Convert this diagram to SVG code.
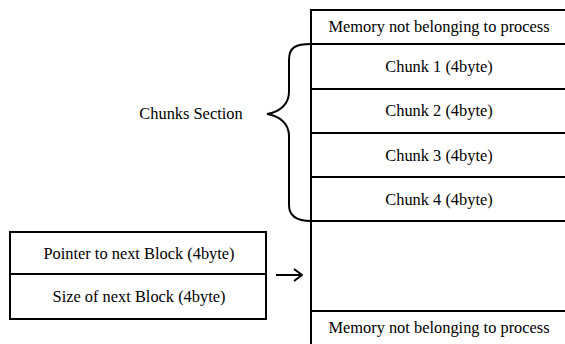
<svg xmlns="http://www.w3.org/2000/svg" width="565" height="344" viewBox="0 0 565 344">
  <style>
    .box { fill: #ffffff; stroke: #000000; stroke-width: 2; }
    .sep { stroke: #000000; stroke-width: 2; fill: none; }
    text { font-family: 'Liberation Serif', 'Times New Roman', serif; font-size: 16.4px; fill: #000000; text-anchor: middle; }
    .conn { stroke: #000000; stroke-width: 2; fill: none; }
  </style>
  <defs>
    <marker id="arrow" viewBox="0 0 10 14" refX="9" refY="7" markerWidth="10" markerHeight="14" orient="auto" markerUnits="userSpaceOnUse">
      <path d="M1,1 L9,7 L1,13" fill="none" stroke="#000000" stroke-width="2"/>
    </marker>
  </defs>
  <rect width="565" height="344" fill="#ffffff"/>

  <!-- memory column -->
  <g id="memory">
    <rect class="box" x="311" y="10" width="260" height="340"/>
    <g id="top-foreign">
      <text x="439" y="32">Memory not belonging to process</text>
    </g>
    <g id="chunk1">
      <line class="sep" x1="311" y1="44" x2="565" y2="44"/>
      <text x="439" y="72">Chunk 1 (4byte)</text>
    </g>
    <g id="chunk2">
      <line class="sep" x1="311" y1="89" x2="565" y2="89"/>
      <text x="439" y="116">Chunk 2 (4byte)</text>
    </g>
    <g id="chunk3">
      <line class="sep" x1="311" y1="133" x2="565" y2="133"/>
      <text x="439" y="161">Chunk 3 (4byte)</text>
    </g>
    <g id="chunk4">
      <line class="sep" x1="311" y1="177" x2="565" y2="177"/>
      <text x="439" y="205">Chunk 4 (4byte)</text>
    </g>
    <g id="free-area">
      <line class="sep" x1="311" y1="221" x2="565" y2="221"/>
    </g>
    <g id="bottom-foreign">
      <line class="sep" x1="311" y1="311" x2="565" y2="311"/>
      <text x="439" y="333">Memory not belonging to process</text>
    </g>
  </g>

  <!-- block header -->
  <g id="header">
    <rect class="box" x="10" y="232" width="256" height="87"/>
    <line class="sep" x1="10" y1="274" x2="266" y2="274"/>
    <text x="139" y="259">Pointer to next Block (4byte)</text>
    <text x="139" y="302">Size of next Block (4byte)</text>
  </g>

  <g id="section-label">
    <text x="191" y="119">Chunks Section</text>
  </g>

  <!-- connectors -->
  <g id="connectors">
    <path class="conn" d="M311,44 C296,44 289,47 289,60 L289,92 C289,104 280,112 267,114 C280,116 289,124 289,136 L289,205 C289,216 296,221 311,221"/>
    <line class="conn" x1="276" y1="275" x2="302" y2="275" marker-end="url(#arrow)"/>
  </g>
</svg>
